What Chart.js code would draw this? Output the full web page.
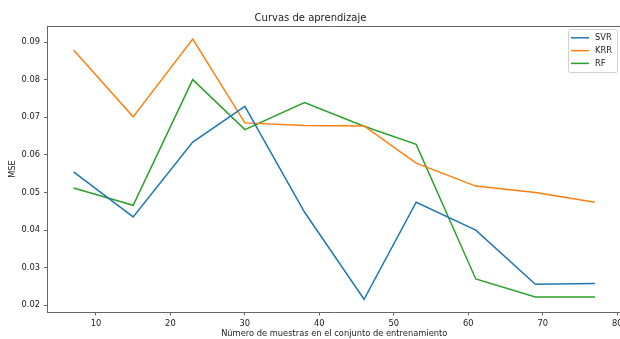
<!DOCTYPE html>
<html lang="es">
<head>
<meta charset="UTF-8">
<title>Curvas de aprendizaje</title>
<script src="https://cdn.jsdelivr.net/npm/chart.js"></script>
<style>
  html, body { margin: 0; padding: 0; overflow: hidden; background: #fff; }
  canvas { display: block; }
</style>
</head>
<body>
<canvas id="curvas" width="640" height="339"></canvas>
<script>
// muestras de entrenamiento
const muestras = [7, 15, 23, 30, 38, 46, 53, 61, 69, 77];
const svr = [0.0555, 0.0435, 0.0634, 0.0729, 0.0448, 0.0216, 0.0474, 0.0400, 0.0256, 0.0258];
const krr = [0.0879, 0.0701, 0.0908, 0.0685, 0.0678, 0.0677, 0.0578, 0.0517, 0.0500, 0.0474];
const rf  = [0.0512, 0.0466, 0.0800, 0.0667, 0.0739, 0.0676, 0.0628, 0.0270, 0.0222, 0.0222];
const xTicks = [10, 20, 30, 40, 50, 60, 70, 80];
const yTicks = [0.02, 0.03, 0.04, 0.05, 0.06, 0.07, 0.08, 0.09];

const fontFam = '"DejaVu Sans", sans-serif';
const txtColor = '#222';
const spine = '#666';

function serie(label, vals, color) {
  return {
    label: label,
    data: muestras.map((m, i) => ({ x: m, y: vals[i] })),
    borderColor: color,
    backgroundColor: color,
    borderWidth: 1.5,
    pointRadius: 0,
    tension: 0,
    fill: false
  };
}

// marco superior/derecho + leyenda estilo matplotlib
const marco = {
  id: 'marco',
  afterDraw(chart) {
    const { ctx, chartArea: a } = chart;
    ctx.save();
    ctx.strokeStyle = spine;
    ctx.lineWidth = 1;
    ctx.beginPath();
    ctx.moveTo(a.left, a.top + 0.5);
    ctx.lineTo(a.right, a.top + 0.5);
    ctx.lineTo(a.right, a.bottom);
    ctx.stroke();

    // leyenda
    const x0 = 568, y0 = 29, w = 49, h = 43;
    ctx.fillStyle = 'rgba(255,255,255,0.8)';
    ctx.strokeStyle = '#d0d0d0';
    ctx.beginPath();
    ctx.roundRect(x0 + 0.5, y0 + 0.5, w, h, 2);
    ctx.fill();
    ctx.stroke();
    ctx.font = '8.3px ' + fontFam;
    ctx.textBaseline = 'middle';
    ctx.textAlign = 'left';
    chart.data.datasets.forEach((ds, i) => {
      const yy = 37.8 + i * 12.8;
      ctx.strokeStyle = ds.borderColor;
      ctx.lineWidth = 1.5;
      ctx.beginPath();
      ctx.moveTo(571, yy);
      ctx.lineTo(589, yy);
      ctx.stroke();
      ctx.fillStyle = txtColor;
      ctx.fillText(ds.label, 595, yy + 0.5);
    });
    ctx.restore();
  }
};

new Chart(document.getElementById('curvas'), {
  type: 'line',
  data: {
    datasets: [
      serie('SVR', svr, '#1f77b4'),
      serie('KRR', krr, '#ff7f0e'),
      serie('RF', rf, '#2ca02c')
    ]
  },
  options: {
    responsive: false,
    animation: false,
    devicePixelRatio: 1,
    layout: { padding: { left: 0, right: 19, top: 0, bottom: 0 } },
    plugins: {
      legend: { display: false },
      tooltip: { enabled: false },
      title: {
        display: true,
        text: 'Curvas de aprendizaje',
        color: txtColor,
        font: { family: fontFam, size: 10, weight: 'normal', lineHeight: 1.2 },
        padding: { top: 12, bottom: 2 }
      }
    },
    scales: {
      x: {
        type: 'linear',
        min: 3.5,
        max: 80.5,
        afterBuildTicks: s => { s.ticks = xTicks.map(v => ({ value: v })); },
        afterFit: s => { s.height = 27; },
        grid: { display: true, drawOnChartArea: false, drawTicks: true, tickLength: 3.5, color: spine },
        border: { display: true, color: spine, width: 1 },
        ticks: {
          color: txtColor,
          padding: 3,
          maxRotation: 0,
          font: { family: fontFam, size: 8.3 },
          callback: v => String(v)
        },
        title: {
          display: true,
          text: 'Número de muestras en el conjunto de entrenamiento',
          color: txtColor,
          font: { family: fontFam, size: 8.3, lineHeight: 1.2 },
          padding: { top: 0, bottom: 0 }
        }
      },
      y: {
        type: 'linear',
        min: 0.01822,
        max: 0.09426,
        afterBuildTicks: s => { s.ticks = yTicks.map(v => ({ value: v })); },
        afterFit: s => { s.width = 47.5; },
        grid: { display: true, drawOnChartArea: false, drawTicks: true, tickLength: 3.5, color: spine },
        border: { display: true, color: spine, width: 1 },
        ticks: {
          color: txtColor,
          padding: 4,
          font: { family: fontFam, size: 8.3 },
          callback: v => v.toFixed(2)
        },
        title: {
          display: true,
          text: 'MSE',
          color: txtColor,
          font: { family: fontFam, size: 8.3, lineHeight: 1.2 },
          padding: { top: 8, bottom: 0 }
        }
      }
    }
  },
  plugins: [marco]
});
</script>
</body>
</html>
